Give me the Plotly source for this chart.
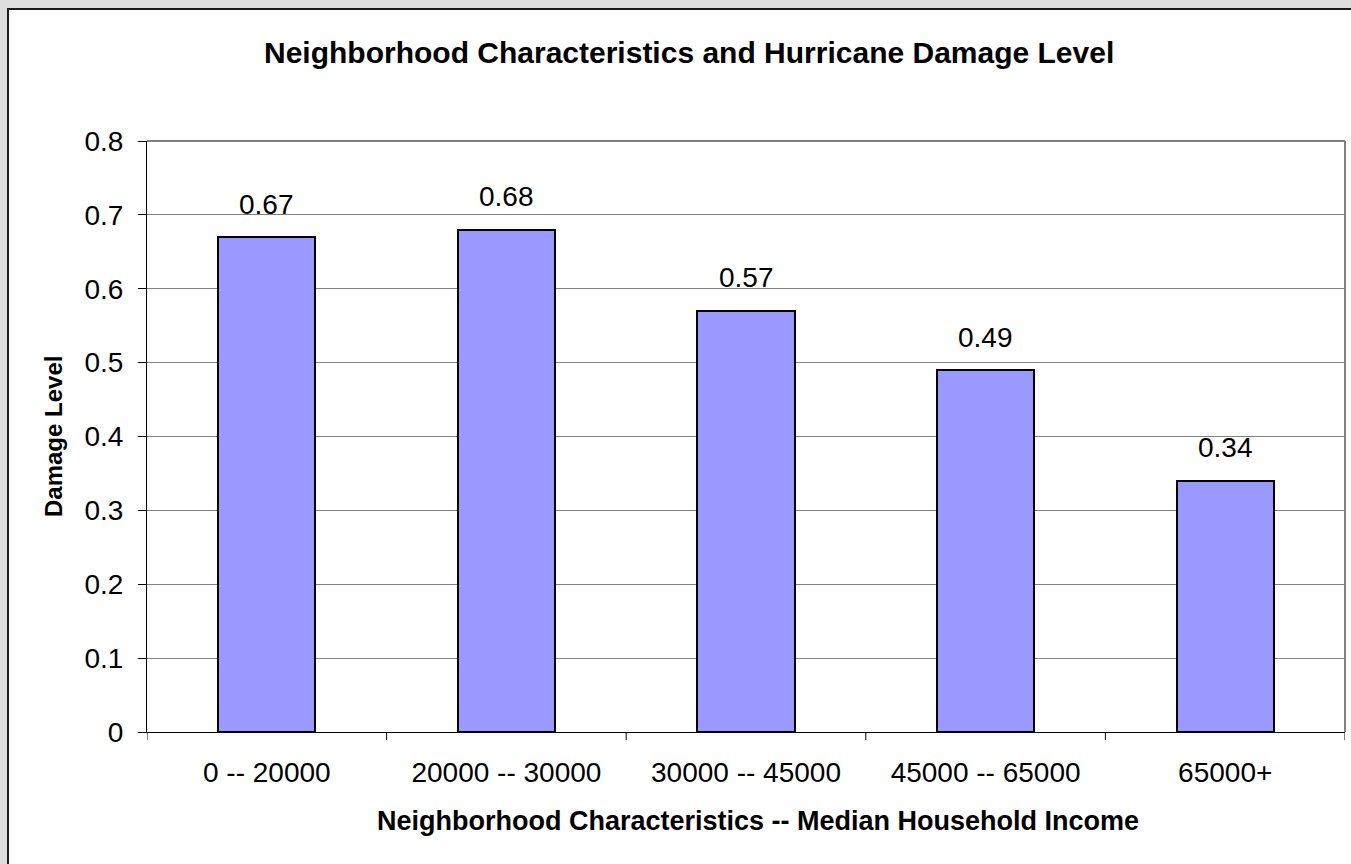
import plotly.graph_objects as go

# Damage level by neighborhood median household income bracket
income_brackets = ["0 -- 20000", "20000 -- 30000", "30000 -- 45000", "45000 -- 65000", "65000+"]
damage_level = [0.67, 0.68, 0.57, 0.49, 0.34]
y_ticks = [0, 0.1, 0.2, 0.3, 0.4, 0.5, 0.6, 0.7, 0.8]
y_tick_labels = ["0", "0.1", "0.2", "0.3", "0.4", "0.5", "0.6", "0.7", "0.8"]

W, H = 1351, 864
ML, MR, MT, MB = 147, 6, 141, 132
PW, PH = W - ML - MR, H - MT - MB

def px_x(px):
    return (px - ML) / PW

def px_y(py):
    return (H - MB - py) / PH

font_family = "Liberation Sans, Arial, sans-serif"
black = "#000000"

fig = go.Figure()
fig.add_trace(go.Bar(
    x=list(range(len(income_brackets))),
    y=damage_level,
    width=0.405,
    marker=dict(color="#9999FF", line=dict(color=black, width=2)),
    hoverinfo="skip",
))

# value labels above each bar
for i, v in enumerate(damage_level):
    fig.add_annotation(x=i, y=v, text=f"{v:.2f}", showarrow=False,
                       yanchor="middle", yshift=33,
                       font=dict(size=28, color=black, family=font_family))

# chart area: white box with dark frame on a grey page
fig.add_shape(type="rect", xref="paper", yref="paper",
              x0=px_x(8), x1=px_x(1400), y0=px_y(9), y1=px_y(900),
              fillcolor="#FFFFFF", line=dict(color="#1a1a1a", width=2), layer="below")

# plot-area frame on top and right
fig.add_shape(type="line", xref="paper", yref="paper", x0=0, x1=1, y0=1, y1=1,
              line=dict(color="#808080", width=2))
fig.add_shape(type="line", xref="paper", yref="paper", x0=1, x1=1, y0=0, y1=1,
              line=dict(color="#808080", width=2))

# category separator ticks on the x axis
for k in range(len(income_brackets) + 1):
    fig.add_shape(type="line", xref="x", yref="paper", x0=k - 0.5, x1=k - 0.5,
                  y0=0, y1=-8 / PH, line=dict(color=black, width=1))

# chart title and axis titles
fig.add_annotation(text="<b>Neighborhood Characteristics and Hurricane Damage Level</b>",
                   xref="paper", yref="paper", x=px_x(689), y=px_y(53),
                   xanchor="center", yanchor="middle", showarrow=False,
                   font=dict(size=30, color=black, family=font_family))
fig.add_annotation(text="<b>Neighborhood Characteristics -- Median Household Income</b>",
                   xref="paper", yref="paper", x=px_x(758), y=px_y(821),
                   xanchor="center", yanchor="middle", showarrow=False,
                   font=dict(size=27, color=black, family=font_family))
fig.add_annotation(text="<b>Damage Level</b>", textangle=-90,
                   xref="paper", yref="paper", x=px_x(53), y=px_y(437),
                   xanchor="center", yanchor="middle", showarrow=False,
                   font=dict(size=24, color=black, family=font_family))

fig.update_layout(
    width=W, height=H,
    margin=dict(l=ML, r=MR, t=MT, b=MB, autoexpand=False),
    paper_bgcolor="#DEDEDE",
    plot_bgcolor="#FFFFFF",
    showlegend=False,
    bargap=0,
    font=dict(family=font_family, color=black),
    xaxis=dict(
        range=[-0.5, len(income_brackets) - 0.5],
        tickmode="array",
        tickvals=list(range(len(income_brackets))),
        ticktext=income_brackets,
        ticks="",
        ticklabelstandoff=15,
        tickfont=dict(size=28, family=font_family, color=black),
        showgrid=False, zeroline=False,
        showline=True, linecolor=black, linewidth=1,
        fixedrange=True,
    ),
    yaxis=dict(
        range=[0, 0.8],
        tickmode="array",
        tickvals=y_ticks,
        ticktext=y_tick_labels,
        ticks="outside", ticklen=8, tickcolor=black, tickwidth=1,
        ticklabelstandoff=9,
        tickfont=dict(size=28, family=font_family, color=black),
        showgrid=True, gridcolor="#808080", gridwidth=1,
        zeroline=False,
        showline=True, linecolor=black, linewidth=1,
        fixedrange=True,
    ),
)

fig.write_html("out.html")
